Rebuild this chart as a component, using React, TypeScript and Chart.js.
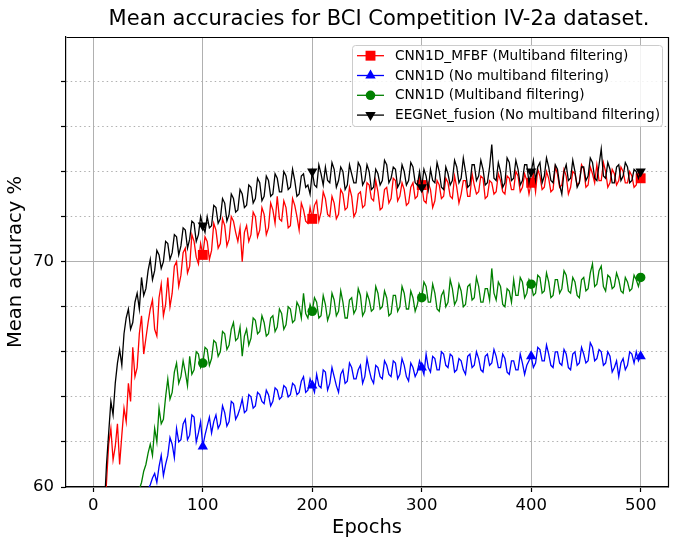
import React, { useEffect, useRef } from "react";
import { Chart, registerables } from "chart.js";

Chart.register(...registerables);

const TITLE = "Mean accuracies for BCI Competition IV-2a dataset.";
const X_TITLE = "Epochs";
const Y_TITLE = "Mean accuracy %";
const EPOCH_STEP = 2;
const MARKER_EVERY = 50; // every 100 epochs
const X_TICKS = [0, 100, 200, 300, 400, 500];
const Y_LABELLED = [60, 70];

const LABELS = [
  "CNN1D_MFBF (Multiband filtering)",
  "CNN1D (No multiband filtering)",
  "CNN1D (Multiband filtering)",
  "EEGNet_fusion (No multiband filtering)",
];

// values every 2 epochs, 0..500
const RED = [
  50, 51.5, 53, 55, 56.5, 58.5, 60.2, 61.9, 62.6, 61.2, 61.8, 62.8, 61.0, 62.3, 63.5, 62.9, 64.6, 63.8, 66.2, 64.9,
  65.3, 66.8, 67.6, 65.9, 66.6, 67.3, 67.9, 68.3, 67.0, 66.7, 68.4, 69.0, 67.6, 68.1, 69.3, 68.0, 68.6, 69.8, 70.0, 68.9,
  69.4, 70.4, 70.6, 69.5, 69.8, 71.2, 70.9, 70.2, 69.9, 70.8, 70.3, 71.1, 70.9, 70.1, 70.5, 71.7, 71.4, 70.6, 70.8, 71.9,
  71.6, 70.7, 71.0, 72.0, 71.8, 71.3, 70.9, 71.5, 70.0, 71.3, 71.6, 70.9, 71.2, 72.2, 72.0, 71.1, 71.4, 72.4, 72.1, 71.2,
  71.5, 72.6, 72.3, 71.7, 72.9, 71.9, 71.8, 72.7, 72.4, 71.5, 71.6, 72.8, 72.5, 72.0, 71.4, 72.6, 72.3, 71.8, 71.7, 72.4,
  71.9, 72.5, 72.7, 71.8, 72.2, 73.1, 72.8, 72.1, 72.0, 72.9, 72.6, 71.9, 72.1, 73.2, 73.0, 72.3, 72.4, 73.3, 72.9, 72.0,
  72.2, 73.0, 73.1, 72.4, 72.5, 73.5, 73.4, 72.8, 72.7, 73.6, 73.1, 72.3, 72.4, 73.2, 73.3, 72.6, 72.8, 73.7, 73.6, 72.7,
  72.9, 73.5, 73.2, 72.5, 72.6, 73.3, 73.5, 72.8, 72.9, 73.7, 73.4, 72.7, 72.6, 73.5, 73.2, 72.4, 72.7, 73.6, 73.4, 72.8,
  72.9, 73.7, 73.5, 72.9, 72.8, 73.8, 73.3, 72.6, 73.0, 73.6, 73.6, 72.9, 72.9, 73.9, 73.4, 73.0, 73.1, 73.8, 73.7, 72.8,
  72.9, 73.6, 73.5, 73.0, 73.1, 73.9, 73.6, 73.1, 73.0, 73.8, 73.7, 73.2, 73.2, 74.0, 73.8, 73.1, 73.3, 73.9, 73.6, 73.0,
  73.5, 73.9, 73.1, 74.1, 73.8, 73.2, 73.3, 74.0, 73.7, 73.1, 73.2, 74.2, 73.9, 73.3, 73.4, 74.1, 73.8, 73.0, 73.3, 74.0,
  73.9, 73.4, 73.5, 74.3, 74.1, 73.3, 73.4, 74.2, 73.9, 73.5, 74.3, 73.6, 73.6, 74.4, 74.0, 73.3, 73.5, 74.1, 73.9, 73.4,
  73.6, 74.2, 74.0, 73.5, 73.5, 74.0, 73.8, 73.3, 73.4, 74.0, 73.7,
];

const BLUE = [
  42, 43.5, 45, 46.5, 48, 49, 50, 51, 52, 52.8, 53.5, 54.2, 55, 55.5, 56, 56.6, 57, 57.6, 58, 58.2,
  58.6, 59.0, 59.2, 59.4, 59.6, 59.9, 60.1, 60.4, 60.6, 60.2, 60.9, 61.4, 60.5, 61.0, 61.4, 62.2, 61.9, 61.3, 62.6, 62.0,
  62.1, 62.8, 63.0, 62.1, 62.3, 63.2, 63.1, 62.0, 62.4, 62.9, 61.8, 62.3, 62.7, 63.1, 62.4, 62.9, 63.2, 62.6, 62.8, 63.6,
  63.3, 62.7, 62.9, 63.8, 63.7, 63.0, 63.2, 63.5, 63.9, 63.3, 63.4, 64.1, 64.0, 63.5, 63.6, 64.2, 64.1, 63.8, 63.7, 64.3,
  64.1, 63.6, 63.8, 64.4, 64.3, 63.9, 64.0, 64.5, 64.4, 64.0, 64.1, 64.6, 64.5, 64.1, 64.2, 64.7, 64.9, 64.2, 64.3, 64.8,
  64.5, 64.2, 65.0, 64.5, 64.4, 65.2, 65.1, 64.3, 64.6, 65.3, 64.9, 64.5, 64.2, 65.0, 65.2, 64.6, 64.7, 65.5, 65.3, 64.8,
  64.8, 65.2, 65.4, 64.6, 64.9, 65.7, 65.2, 64.8, 64.6, 65.4, 65.3, 64.9, 64.8, 65.6, 65.4, 65.0, 64.9, 65.6, 65.5, 64.8,
  65.0, 65.7, 65.4, 64.9, 64.7, 65.5, 65.3, 64.9, 65.1, 65.6, 65.3, 65.0, 65.9, 65.3, 65.1, 65.8, 65.7, 65.2, 65.2, 66.0,
  65.9, 65.4, 65.3, 65.9, 65.8, 65.1, 65.2, 65.7, 65.6, 65.2, 65.0, 65.8, 65.9, 65.3, 65.4, 66.0, 65.7, 65.2, 65.1, 65.8,
  65.9, 65.4, 65.5, 66.1, 65.8, 65.3, 65.3, 65.9, 65.7, 65.1, 65.0, 65.6, 65.6, 65.2, 65.2, 65.9, 65.5, 65.0, 65.4, 65.6,
  65.8, 65.3, 65.5, 66.2, 66.1, 65.6, 65.6, 66.3, 65.9, 65.4, 65.3, 66.0, 66.0, 65.5, 65.4, 66.1, 65.9, 65.3, 65.2, 65.9,
  66.0, 65.4, 65.5, 66.2, 65.9, 65.5, 65.6, 66.4, 66.2, 65.6, 65.7, 66.1, 66.0, 65.4, 65.5, 66.0, 65.8, 65.1, 65.3, 65.6,
  64.9, 65.5, 65.7, 65.2, 65.4, 66.0, 65.9, 65.5, 66.0, 65.6, 65.8,
];

const GREEN = [
  45, 46.5, 48, 49.5, 51, 52, 53, 53.8, 54.5, 55, 55.5, 56, 56.5, 57, 57.5, 57.9, 58.3, 58.7, 59.0, 59.3,
  59.6, 59.9, 60.2, 60.7, 61.0, 61.5, 61.9, 61.4, 62.6, 62.0, 63.5, 62.8, 63.0, 64.0, 64.8, 63.9, 64.2, 65.1, 65.5, 64.6,
  64.9, 65.6, 65.1, 64.5, 65.8, 65.0, 65.2, 66.0, 65.9, 65.3, 65.5, 66.2, 66.1, 65.4, 65.7, 66.5, 66.4, 65.8, 66.0, 66.9,
  66.8, 66.1, 66.3, 67.0, 67.3, 66.5, 66.6, 67.1, 65.8, 66.7, 67.0, 66.3, 66.6, 67.5, 67.4, 66.8, 66.9, 67.6, 67.3, 66.7,
  66.8, 67.5, 67.6, 66.9, 67.1, 67.9, 67.7, 67.0, 67.2, 68.0, 67.9, 67.3, 67.4, 68.2, 68.0, 67.5, 68.6, 67.7, 67.5, 68.1,
  67.8, 68.4, 68.2, 67.5, 67.6, 68.5, 68.1, 67.4, 67.7, 68.6, 68.3, 67.6, 67.8, 68.7, 68.2, 67.5, 67.5, 68.3, 68.4, 67.7,
  67.9, 68.8, 68.5, 67.6, 67.8, 68.6, 68.3, 67.8, 67.9, 68.9, 68.6, 67.9, 68.0, 68.7, 68.4, 67.6, 67.7, 68.5, 68.5, 67.8,
  68.0, 68.9, 68.6, 67.9, 67.9, 68.7, 68.4, 67.8, 68.1, 68.6, 68.4, 69.1, 68.9, 68.2, 68.2, 69.0, 68.6, 67.9, 67.8, 68.5,
  68.7, 68.0, 68.2, 69.2, 68.8, 68.1, 68.3, 69.0, 68.7, 68.0, 68.1, 68.9, 69.0, 68.3, 68.4, 69.3, 68.9, 68.2, 68.2, 68.8,
  68.8, 68.3, 69.7, 68.6, 68.3, 69.1, 68.9, 68.1, 68.0, 68.8, 68.7, 68.2, 69.2, 68.5, 68.5, 69.3, 69.1, 68.4, 68.6, 69.2,
  69.0, 68.5, 68.6, 69.4, 69.3, 68.6, 68.7, 69.5, 69.1, 68.4, 68.5, 69.2, 69.2, 68.6, 68.8, 69.6, 69.4, 68.7, 68.6, 69.3,
  69.1, 68.5, 68.4, 69.2, 69.3, 68.7, 68.8, 69.5, 69.9, 68.9, 69.0, 69.6, 69.8, 68.9, 68.7, 69.4, 69.3, 68.8, 68.9, 69.5,
  69.2, 68.7, 68.6, 69.3, 69.1, 68.7, 68.8, 69.4, 69.2, 68.9, 69.3,
];

const BLACK = [
  49, 51, 53, 55, 57, 59, 61.0, 62.4, 63.8, 63.2, 64.6, 65.5, 66.1, 65.4, 66.8, 67.5, 67.9, 67.0, 67.3, 68.2,
  68.6, 67.9, 69.3, 68.5, 68.8, 69.6, 70.1, 69.2, 69.6, 70.5, 70.3, 69.7, 70.0, 70.9, 70.8, 70.1, 70.4, 71.2, 71.1, 70.3,
  70.7, 71.5, 71.4, 70.6, 71.0, 71.8, 71.7, 70.9, 71.2, 72.0, 71.6, 71.3, 72.0, 71.5, 71.6, 72.5, 72.4, 71.7, 71.9, 72.8,
  72.6, 71.8, 72.1, 73.0, 72.8, 72.2, 72.3, 73.2, 73.0, 72.4, 72.5, 73.4, 73.3, 72.6, 72.8, 73.7, 73.5, 72.7, 72.9, 73.8,
  73.6, 72.9, 73.0, 73.9, 73.7, 73.1, 73.1, 74.0, 73.8, 73.2, 73.3, 74.1, 73.6, 72.9, 73.0, 73.8, 73.9, 73.3, 73.4, 73.0,
  74.0, 73.4, 73.3, 74.3, 73.9, 73.4, 74.2, 73.6, 73.5, 74.4, 74.1, 73.3, 73.6, 74.2, 74.0, 73.2, 73.4, 74.3, 73.9, 73.5,
  73.5, 74.4, 74.2, 73.4, 73.6, 74.3, 74.0, 73.2, 73.3, 74.1, 73.9, 73.4, 73.6, 74.5, 74.3, 73.5, 73.7, 74.2, 74.1, 73.3,
  73.5, 74.3, 74.0, 73.4, 73.6, 74.4, 74.2, 73.5, 73.4, 74.0, 73.3, 74.1, 73.8, 73.2, 74.1, 73.6, 73.5, 74.4, 74.0, 73.3,
  73.2, 74.2, 73.9, 73.4, 73.6, 74.5, 74.2, 73.5, 73.7, 74.6, 74.0, 73.3, 73.4, 74.3, 74.3, 73.6, 73.8, 74.5, 74.1, 73.4,
  73.5, 74.2, 75.2, 73.7, 73.6, 74.4, 74.0, 73.3, 73.5, 74.6, 74.4, 73.6, 73.7, 74.5, 74.1, 73.4, 73.6, 74.3, 74.3, 73.5,
  74.0, 74.5, 73.6, 74.2, 74.4, 73.5, 73.8, 74.6, 74.2, 73.6, 73.5, 74.3, 74.1, 73.4, 73.0, 74.0, 74.3, 73.6, 73.7, 74.5,
  74.0, 73.3, 73.5, 74.2, 74.2, 73.6, 73.8, 74.6, 74.4, 73.7, 73.6, 74.3, 75.0, 73.8, 73.7, 74.4, 74.1, 73.5, 73.5, 74.2,
  74.3, 73.6, 73.8, 74.4, 74.2, 73.5, 73.6, 74.1, 74.0, 73.7, 74.0,
];

const COLORS = ["#ff0000", "#0000ff", "#008000", "#000000"];
const SERIES = [RED, BLUE, GREEN, BLACK];

const FONT = "'DejaVu Sans', sans-serif";

type Marker = { style: string; radius: number; rotation: number };
const MARKERS: Marker[] = [
  { style: "rect", radius: 7, rotation: 0 },
  { style: "triangle", radius: 6, rotation: 0 },
  { style: "circle", radius: 4.8, rotation: 0 },
  { style: "triangle", radius: 6, rotation: 180 },
];

function drawMarker(ctx: CanvasRenderingContext2D, m: Marker, x: number, y: number, color: string) {
  ctx.save();
  ctx.fillStyle = color;
  ctx.beginPath();
  if (m.style === "rect") {
    const s = m.radius * Math.SQRT1_2;
    ctx.rect(x - s, y - s, 2 * s, 2 * s);
  } else if (m.style === "circle") {
    ctx.arc(x, y, m.radius, 0, Math.PI * 2);
  } else {
    let rad = (m.rotation * Math.PI) / 180;
    ctx.moveTo(x + Math.sin(rad) * m.radius, y - Math.cos(rad) * m.radius);
    rad += (2 * Math.PI) / 3;
    ctx.lineTo(x + Math.sin(rad) * m.radius, y - Math.cos(rad) * m.radius);
    rad += (2 * Math.PI) / 3;
    ctx.lineTo(x + Math.sin(rad) * m.radius, y - Math.cos(rad) * m.radius);
    ctx.closePath();
  }
  ctx.fill();
  ctx.restore();
}

const framePlugin = {
  id: "frameAndLegend",
  afterDraw(chart: any) {
    const { ctx, chartArea } = chart;
    const { left, right, top, bottom } = chartArea;
    ctx.save();
    // title
    ctx.fillStyle = "#000";
    ctx.font = `21px ${FONT}`;
    ctx.textAlign = "center";
    ctx.textBaseline = "middle";
    ctx.fillText(TITLE, (left + right) / 2 + 12, 20);

    // top and right spines
    ctx.strokeStyle = "#000";
    ctx.lineWidth = 1.2;
    ctx.beginPath();
    ctx.moveTo(Math.round(left) + 0.5, Math.round(top) + 0.5);
    ctx.lineTo(Math.round(right) + 0.5, Math.round(top) + 0.5);
    ctx.lineTo(Math.round(right) + 0.5, Math.round(bottom) + 0.5);
    ctx.stroke();

    // legend
    const x0 = right - 316;
    const y0 = top + 8;
    const w = 310;
    const h = 81;
    ctx.fillStyle = "rgba(255,255,255,0.85)";
    ctx.strokeStyle = "#cccccc";
    ctx.lineWidth = 1;
    ctx.beginPath();
    (ctx as any).roundRect(Math.round(x0) + 0.5, Math.round(y0) + 0.5, w, h, 3);
    ctx.fill();
    ctx.stroke();

    ctx.font = `13.7px ${FONT}`;
    ctx.textBaseline = "middle";
    ctx.textAlign = "left";
    chart.data.datasets.forEach((ds: any, i: number) => {
      const yy = y0 + 10.7 + i * 19.8;
      const color = ds.borderColor;
      ctx.strokeStyle = color;
      ctx.lineWidth = 1.3;
      ctx.beginPath();
      ctx.moveTo(x0 + 5, yy);
      ctx.lineTo(x0 + 32, yy);
      ctx.stroke();
      drawMarker(ctx, MARKERS[i], x0 + 18.5, yy, color);
      ctx.fillStyle = "#000";
      ctx.fillText(ds.label, x0 + 43, yy + 0.5);
    });
    ctx.restore();
  },
};

export default function App() {
  const ref = useRef<HTMLCanvasElement>(null);

  useEffect(() => {
    if (!ref.current) return;
    const datasets = SERIES.map((vals, i) => ({
      label: LABELS[i],
      data: vals.map((v, j) => ({ x: j * EPOCH_STEP, y: v })),
      borderColor: COLORS[i],
      backgroundColor: COLORS[i],
      borderWidth: 1.3,
      pointStyle: MARKERS[i].style,
      rotation: MARKERS[i].rotation,
      pointRadius: (c: any) => (c.dataIndex % MARKER_EVERY === 0 ? MARKERS[i].radius : 0),
      pointBorderWidth: 0,
      pointBackgroundColor: COLORS[i],
      pointBorderColor: COLORS[i],
      pointHoverRadius: 0,
      tension: 0,
      fill: false,
      order: 3 - i,
    }));

    const chart = new Chart(ref.current, {
      type: "line",
      data: { datasets },
      options: {
        animation: false,
        responsive: false,
        events: [],
        layout: { padding: { left: 0, right: 6, top: 37, bottom: 0 } },
        plugins: {
          legend: { display: false },
          tooltip: { enabled: false },
          title: { display: false },
        },
        scales: {
          x: {
            type: "linear",
            min: -25,
            max: 525,
            afterFit: (s: any) => {
              s.height = 54;
            },
            afterBuildTicks: (s: any) => {
              s.ticks = X_TICKS.map((v) => ({ value: v }));
            },
            ticks: {
              color: "#000",
              font: { family: FONT, size: 16.5 },
              padding: 4,
              maxRotation: 0,
              autoSkip: false,
            },
            grid: {
              color: "#b0b0b0",
              lineWidth: 1,
              tickColor: "#000",
              tickLength: 5,
              tickWidth: 1.2,
            },
            border: { display: true, color: "#000", width: 1.2 },
            title: {
              display: true,
              text: X_TITLE,
              color: "#000",
              font: { family: FONT, size: 19.5 },
              padding: { top: 0, bottom: 1 },
            },
          },
          y: {
            type: "linear",
            min: 60,
            max: 79.97,
            afterFit: (s: any) => {
              s.width = 66;
            },
            afterBuildTicks: (s: any) => {
              const t = [];
              for (let v = 60; v < 80; v += 2) t.push({ value: v });
              s.ticks = t;
            },
            ticks: {
              color: "#000",
              font: { family: FONT, size: 16.5 },
              padding: 7,
              autoSkip: false,
              callback: (v: any) => (Y_LABELLED.includes(Number(v)) ? String(v) : ""),
            },
            grid: {
              color: "#b0b0b0",
              lineWidth: 1,
              tickColor: "#000",
              tickLength: 5,
              tickWidth: 1.2,
            },
            border: {
              display: true,
              color: "#000",
              width: 1.2,
              dash: (c: any) => (c.tick && c.tick.value % 10 !== 0 ? [1.5, 3] : []),
            },
            title: {
              display: true,
              text: Y_TITLE,
              color: "#000",
              font: { family: FONT, size: 19.5 },
              padding: { top: 4, bottom: 0 },
            },
          },
        },
      } as any,
      plugins: [framePlugin],
    });
    return () => chart.destroy();
  }, []);

  return (
    <div style={{ position: "absolute", left: 0, top: 0, width: 675, height: 541, background: "#fff" }}>
      <canvas ref={ref} width={675} height={541} style={{ width: 675, height: 541 }} />
    </div>
  );
}
